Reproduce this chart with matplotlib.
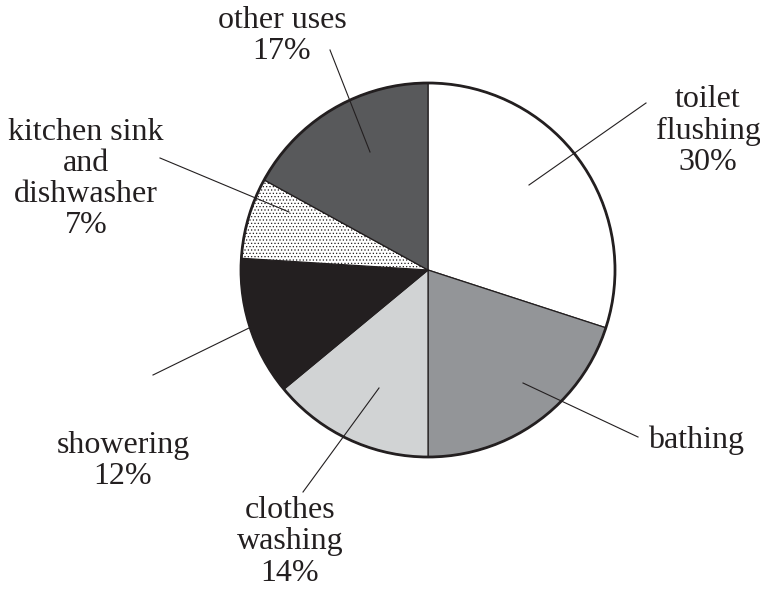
import matplotlib
matplotlib.use("Agg")
import matplotlib.pyplot as plt
from matplotlib.patches import Circle

# ---- data ----
categories = ["toilet\nflushing", "bathing", "clothes\nwashing", "showering",
              "kitchen sink\nand\ndishwasher", "other uses"]
values = [30, 20, 14, 12, 7, 17]
show_pct = [True, False, True, True, True, True]
colors = ["#ffffff", "#939598", "#d1d3d4", "#231f20", "#ffffff", "#58595b"]
hatches = [None, None, None, None, ".....", None]

# ---- layout (pixel coordinates of the 760x589 canvas) ----
W, H = 760, 589
CX, CY, R = 428, 270, 187
# (label centre, leader start (in slice), leader end)
layout = [
    ((708, 131), (529, 185), (646, 103)),
    ((696, 440), (523, 383), (638, 437)),
    ((290, 542), (379, 388), (303, 492)),
    ((123, 461), (296, 305), (153, 375)),
    ((86, 179), (289, 212), (160, 158)),
    ((282, 36), (370, 152), (330, 50)),
]

def d(p):
    return ((p[0] - CX) / R, (CY - p[1]) / R)

plt.rcParams["hatch.linewidth"] = 0.5
plt.rcParams["hatch.color"] = "#231f20"

fig = plt.figure(figsize=(W / 100, H / 100), dpi=100)
ax = fig.add_axes([0, 0, 1, 1])

wedges, _ = ax.pie(values, colors=colors, startangle=90, counterclock=False,
                   radius=1, center=(0, 0),
                   wedgeprops=dict(edgecolor="#231f20", linewidth=0.9))
for w, h in zip(wedges, hatches):
    if h:
        w.set_hatch(h)

ax.add_patch(Circle((0, 0), 1, fill=False, edgecolor="#231f20", linewidth=2.0, zorder=5))

for cat, v, sp, (lab, p0, p1) in zip(categories, values, show_pct, layout):
    txt = cat + (f"\n{v}%" if sp else "")
    ax.plot(*zip(d(p0), d(p1)), color="#231f20", linewidth=0.8, zorder=6)
    ax.text(*d(lab), txt, ha="center", va="center", fontsize=23,
            family="Liberation Serif", color="#231f20", linespacing=1.1)

ax.set_xlim(-CX / R, (W - CX) / R)
ax.set_ylim(-(H - CY) / R, CY / R)
ax.set_aspect("equal")
ax.axis("off")

fig.savefig("out.png", dpi=100)
